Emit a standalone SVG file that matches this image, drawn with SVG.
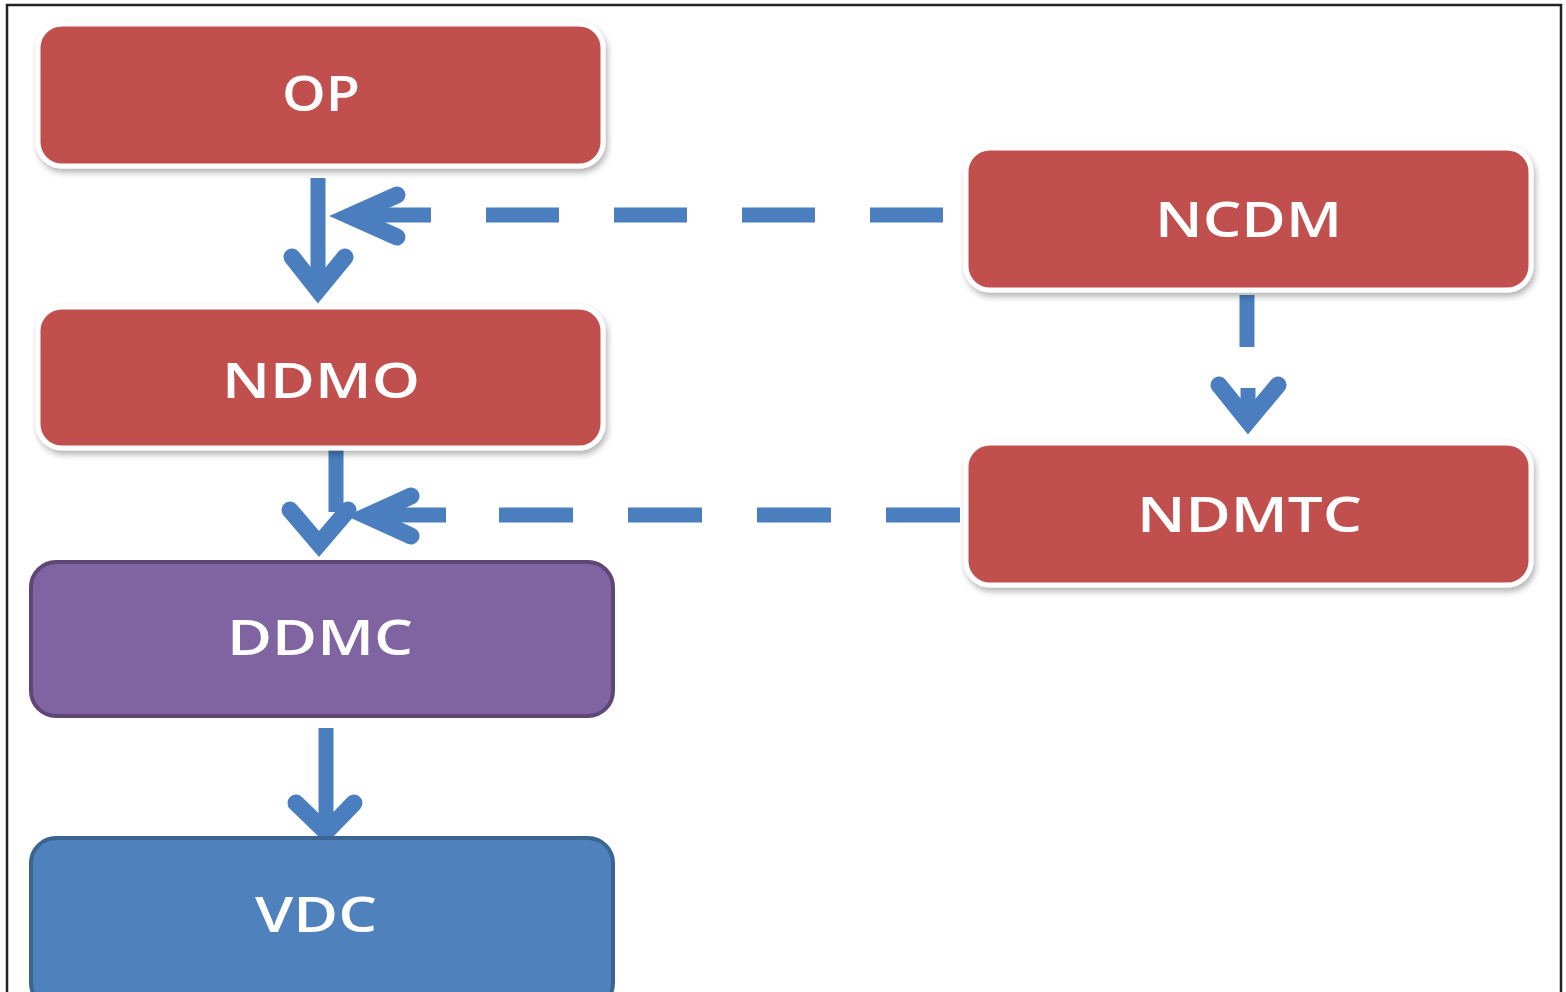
<svg xmlns="http://www.w3.org/2000/svg" width="1566" height="992" viewBox="0 0 1566 992">
<style>
.red{fill:#c0504d;stroke:#ffffff;stroke-width:5;filter:url(#sh)}
.purple{fill:#8064a2;stroke:#5c4776;stroke-width:4}
.blue{fill:#4f81bd;stroke:#3a6591;stroke-width:4}
.lbl{font-family:"Open Sans","Liberation Sans",sans-serif;font-size:49px;font-weight:600;fill:#ffffff}
.sh{fill:none;stroke:#4a7ebe;stroke-width:15;stroke-linecap:butt}
.hd{fill:none;stroke:#4a7ebe;stroke-width:17;stroke-linecap:round;stroke-linejoin:miter;stroke-miterlimit:10}
.ds{fill:none;stroke:#4a7ebe;stroke-width:15;stroke-linecap:butt;stroke-dasharray:73 55}
</style>
<defs>
<filter id="sh" x="-10%" y="-20%" width="120%" height="150%">
<feDropShadow dx="2" dy="4" stdDeviation="3" flood-color="#000" flood-opacity="0.3"/>
</filter>
</defs>
<rect x="0" y="0" width="1566" height="992" fill="#ffffff"/>
<rect x="7" y="5" width="1554" height="1000" fill="none" stroke="#222" stroke-width="2.5"/>
<g id="connectors">
<line class="sh" x1="318" y1="178" x2="318" y2="290"/>
<polyline class="hd" points="292,257 318,290 345,257"/>
<line class="ds" x1="943" y1="215" x2="431" y2="215"/>
<line class="sh" x1="431" y1="215" x2="350" y2="215"/>
<polyline class="hd" points="397,195 350,216 397,237"/>
<line class="sh" x1="1247" y1="295" x2="1247" y2="347"/>
<line class="sh" x1="1248" y1="388" x2="1248" y2="420"/>
<polyline class="hd" points="1219,385 1248,421 1278,385"/>
<line class="sh" x1="336" y1="447" x2="336" y2="512"/>
<polyline class="hd" points="290,510 319,544 348,510"/>
<line class="ds" x1="960" y1="515" x2="446" y2="515" style="stroke-dasharray:74 55"/>
<line class="sh" x1="446" y1="515" x2="368" y2="515"/>
<polyline class="hd" points="411,496 367,516 411,536"/>
<line class="sh" x1="326" y1="728" x2="326" y2="831"/>
<polyline class="hd" points="296,803 326,832 354,803"/>
</g>
<g id="OP">
<rect class="red" x="38" y="24" width="565" height="142" rx="24"/>
<text class="lbl" x="282" y="111" textLength="78" lengthAdjust="spacingAndGlyphs">OP</text>
</g>
<g id="NDMO">
<rect class="red" x="38" y="307" width="565" height="141" rx="24"/>
<text class="lbl" x="222" y="398" textLength="198" lengthAdjust="spacingAndGlyphs">NDMO</text>
</g>
<g id="NCDM">
<rect class="red" x="966" y="148" width="565" height="142" rx="24"/>
<text class="lbl" x="1155" y="237" textLength="187" lengthAdjust="spacingAndGlyphs">NCDM</text>
</g>
<g id="NDMTC">
<rect class="red" x="966" y="443" width="565" height="142" rx="24"/>
<text class="lbl" x="1137" y="532" textLength="225" lengthAdjust="spacingAndGlyphs">NDMTC</text>
</g>
<g id="DDMC">
<rect class="purple" x="31" y="562" width="582" height="154" rx="25"/>
<text class="lbl" x="227" y="655" textLength="186" lengthAdjust="spacingAndGlyphs">DDMC</text>
</g>
<g id="VDC">
<rect class="blue" x="31" y="838" width="582" height="170" rx="25"/>
<text class="lbl" x="255" y="932" textLength="122" lengthAdjust="spacingAndGlyphs">VDC</text>
</g>
</svg>
